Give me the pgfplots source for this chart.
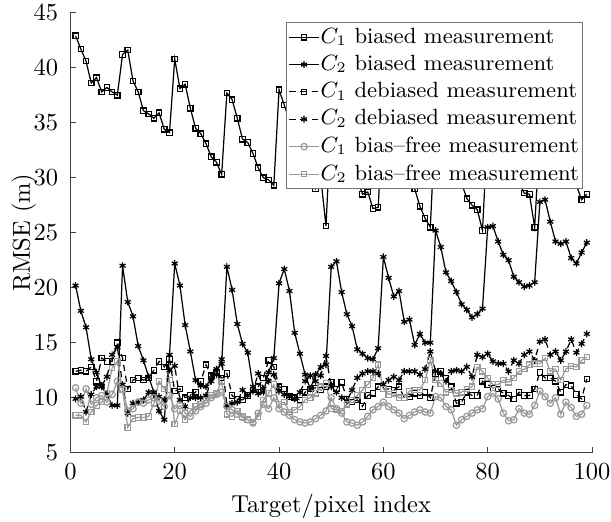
\documentclass[border=0pt]{standalone}
\usepackage{pgfplots}
\usepackage{pgfplotstable}
\pgfplotsset{compat=1.18}
\definecolor{bfgray}{gray}{0.6}
\pgfplotstableread{
x c1b c2b c1d c2d c1f c2f
1 42.9 20.2 12.4 9.9 10.9 8.4
2 41.7 17.9 12.5 10.1 9.5 8.4
3 40.6 16.4 12.4 8.7 10.8 7.8
4 38.6 13.5 12.8 10.3 9.4 8.7
5 39.1 12.3 11.5 11.0 10.0 9.3
6 37.8 11.0 13.6 11.1 10.2 9.6
7 38.2 10.3 13.3 11.9 9.6 10.4
8 37.8 9.3 13.3 13.9 10.3 12.7
9 37.5 9.3 15.0 14.6 11.5 13.3
10 41.2 22.0 13.6 11.2 10.8 10.7
11 41.6 18.7 10.8 8.6 8.8 7.3
12 38.8 17.4 11.6 9.5 9.0 8.1
13 37.8 14.7 11.8 9.6 9.6 8.2
14 36.1 13.4 11.6 9.8 9.5 8.2
15 35.8 11.9 11.8 10.5 9.8 8.3
16 35.4 10.5 12.5 10.3 10.0 9.5
17 35.9 8.8 13.3 10.1 9.7 11.5
18 34.4 8.0 12.8 9.8 9.2 10.8
19 34.1 13.9 13.5 12.5 10.2 11.6
20 40.8 22.2 10.6 12.9 9.0 7.6
21 38.1 20.2 10.8 9.8 9.3 8.8
22 38.5 16.6 10.0 9.2 8.6 8.0
23 36.3 14.2 10.2 10.0 8.3 8.8
24 34.5 11.6 10.5 10.0 8.8 9.2
25 34.0 11.1 11.5 10.0 9.2 9.4
26 33.1 11.0 13.0 10.2 9.5 9.8
27 31.9 11.8 12.0 11.5 10.0 10.2
28 31.4 12.6 12.3 12.1 10.3 10.4
29 30.3 13.1 11.8 13.5 10.5 11.5
30 37.7 21.9 12.2 9.3 9.2 8.5
31 37.1 19.8 10.2 9.5 8.9 8.3
32 35.4 16.7 9.9 9.6 8.5 8.8
33 33.5 14.9 9.8 10.7 8.2 8.3
34 33.2 14.1 10.2 10.2 8.0 8.0
35 32.2 11.0 10.7 10.6 7.7 7.8
36 30.9 10.4 11.0 12.2 8.6 8.3
37 30.0 10.5 11.8 10.8 9.4 9.8
38 29.8 12.3 13.4 11.5 9.0 10.4
39 29.3 13.6 12.8 12.1 10.0 11.2
40 38.0 20.4 11.0 10.6 9.0 9.4
41 36.6 21.7 10.8 10.3 8.7 9.6
42 35.2 19.7 10.1 10.1 8.4 8.7
43 34.0 15.9 10.0 9.9 8.0 8.9
44 33.0 14.0 9.8 10.5 7.8 9.2
45 32.0 12.1 10.5 11.5 7.7 9.8
46 30.5 10.8 10.8 12.0 7.8 10.0
47 29.0 12.1 10.9 11.5 8.1 10.4
48 30.0 12.8 10.7 12.0 8.4 11.0
49 25.6 13.0 11.0 13.8 8.8 11.3
50 35.5 21.9 11.4 11.0 10.0 9.0
51 34.5 22.4 10.8 10.5 9.0 8.9
52 33.5 19.6 11.4 10.0 8.6 8.8
53 32.0 17.6 9.9 9.7 7.8 9.4
54 31.0 16.5 9.6 10.7 7.7 9.8
55 30.0 14.4 9.8 11.8 7.5 10.2
56 28.5 14.0 9.2 12.2 7.8 10.7
57 28.7 13.6 10.2 12.4 8.3 11.2
58 27.2 13.5 10.4 12.4 8.9 11.8
59 27.3 14.5 11.0 12.2 9.2 13.0
60 36.0 22.8 10.8 11.2 9.6 10.8
61 35.0 20.9 10.8 11.6 9.2 10.3
62 33.5 19.2 10.7 11.9 8.9 10.4
63 32.5 19.7 11.0 11.6 8.6 10.0
64 31.0 16.9 10.0 12.4 8.1 10.0
65 30.0 17.1 10.1 12.4 8.4 10.6
66 29.0 14.8 10.4 12.4 8.7 10.7
67 27.4 15.8 10.2 12.1 8.9 10.7
68 26.3 15.0 10.5 12.6 8.7 11.6
69 25.5 15.0 10.0 14.2 8.6 13.4
70 35.5 25.2 12.2 12.4 10.1 11.6
71 34.0 23.7 12.4 12.2 10.0 11.3
72 33.0 21.4 11.8 11.5 9.2 10.5
73 31.5 20.6 11.0 12.4 8.9 10.7
74 30.5 19.6 9.5 12.5 7.5 10.4
75 29.5 18.5 9.6 12.4 8.0 10.5
76 28.1 18.0 10.5 12.8 8.3 10.8
77 27.5 17.3 10.2 11.9 8.6 11.0
78 27.1 17.6 10.2 13.9 8.9 12.8
79 25.2 18.1 11.5 13.7 9.0 12.4
80 34.5 25.5 11.2 14.0 10.1 11.8
81 33.5 25.6 10.9 13.3 10.4 11.2
82 32.0 24.2 10.8 13.1 9.9 11.2
83 31.0 23.0 10.4 13.1 8.6 11.6
84 30.5 22.5 10.2 12.4 7.9 11.4
85 30.0 21.0 9.9 13.4 8.0 11.8
86 29.5 20.5 10.5 13.1 9.0 12.4
87 28.6 20.1 10.2 13.9 8.6 12.6
88 28.5 20.2 10.2 14.2 8.5 13.0
89 25.5 20.5 10.8 13.4 9.3 13.1
90 34.0 27.8 12.3 15.1 10.6 13.1
91 33.0 28.0 11.8 15.3 10.1 13.6
92 32.0 26.0 11.8 13.9 9.5 12.4
93 31.0 24.2 11.5 14.2 10.0 12.6
94 30.5 24.0 10.5 13.4 8.5 11.6
95 30.0 24.2 11.2 14.2 9.6 12.6
96 29.5 22.7 11.1 15.3 9.1 12.9
97 29.3 22.2 10.3 14.1 8.3 12.8
98 28.0 23.2 9.9 14.9 8.5 13.4
99 28.5 24.1 11.7 15.8 9.3 13.7
}\datatable
\begin{document}
\begin{tikzpicture}
\begin{axis}[
  name=ax,
  scale only axis,
  width=212.9pt, height=179.6pt,
  xmin=0, xmax=100, ymin=5, ymax=45,
  xtick={0,20,40,60,80,100},
  ytick={5,10,15,20,25,30,35,40,45},
  axis lines=left,
  axis line style={-, black!75},
  tick style={black!75},
  tick align=inside,
  major tick length=2.2pt,
  yticklabel style={xshift=-1.5pt},
  xticklabel style={yshift=-0.8pt},
  xlabel={Target/pixel index},
  ylabel={RMSE (m)},
  xlabel style={at={(axis description cs:0.5,-0.0735)}, anchor=north},
  ylabel style={at={(axis description cs:-0.0493,0.5)}, anchor=south},
  every axis plot/.append style={line width=0.5pt},
  legend style={at={(rel axis cs:0.983,0.978)}, anchor=north east,
    draw=black!55, fill=white, font=\small, inner xsep=1pt, inner ysep=1pt,
    nodes={inner xsep=0.5pt, inner ysep=1pt, text depth=0.15em},
    row sep=1.4pt, cells={anchor=west}},
  legend cell align=left,
  legend image code/.code={\draw[mark repeat=2,mark phase=2] plot coordinates {(0cm,0cm) (0.21cm,0cm) (0.42cm,0cm)};},
  clip=false,
]
\addplot[black, mark=square, mark size=1.1pt] table[x=x, y=c1b] {\datatable};
\addlegendentry{$C_1$ biased measurement}
\addplot[black, mark=asterisk, mark size=1.4pt] table[x=x, y=c2b] {\datatable};
\addlegendentry{$C_2$ biased measurement}
\addplot[black, dash pattern=on 2.5pt off 2pt, mark=square, mark size=1.1pt, mark options={solid}] table[x=x, y=c1d] {\datatable};
\addlegendentry{$C_1$ debiased measurement}
\addplot[black, dash pattern=on 2.5pt off 2pt, mark=asterisk, mark size=1.4pt, mark options={solid}] table[x=x, y=c2d] {\datatable};
\addlegendentry{$C_2$ debiased measurement}
\addplot[bfgray, mark=o, mark size=1.3pt] table[x=x, y=c1f] {\datatable};
\addlegendentry{$C_1$ bias--free measurement}
\addplot[bfgray, mark=square, mark size=1.1pt] table[x=x, y=c2f] {\datatable};
\addlegendentry{$C_2$ bias--free measurement}
\end{axis}
\pgfresetboundingbox
\useasboundingbox ([shift={(-28.73pt,-28.24pt)}]ax.south west) rectangle ([shift={(7.74pt,5.18pt)}]ax.north east);
\end{tikzpicture}
\end{document}
